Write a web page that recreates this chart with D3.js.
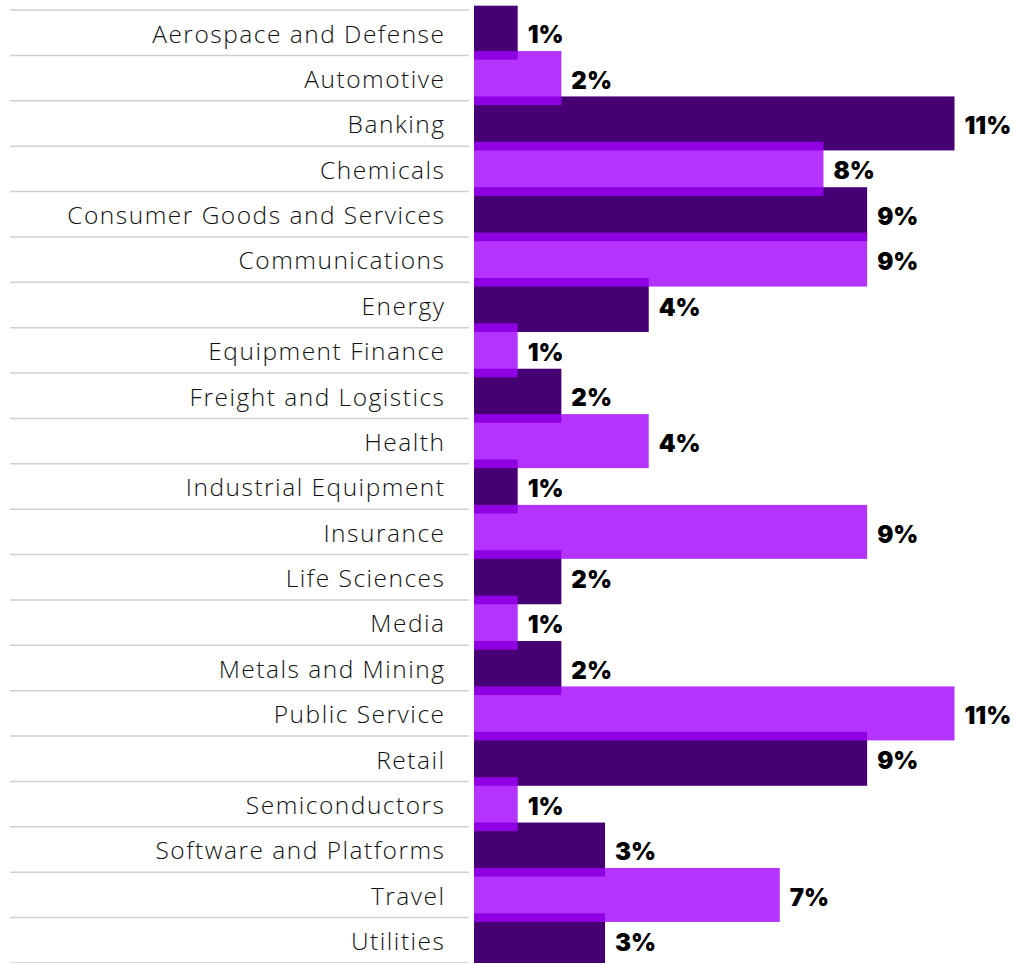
<!DOCTYPE html>
<html><head><meta charset="utf-8">
<script src="https://cdn.jsdelivr.net/npm/d3@7"></script>
<style>
html,body{margin:0;padding:0;background:#fff;}
svg{display:block;}
</style></head>
<body>
<script>
const categories = ["Aerospace and Defense","Automotive","Banking","Chemicals","Consumer Goods and Services","Communications","Energy","Equipment Finance","Freight and Logistics","Health","Industrial Equipment","Insurance","Life Sciences","Media","Metals and Mining","Public Service","Retail","Semiconductors","Software and Platforms","Travel","Utilities"];
const values = [1,2,11,8,9,9,4,1,2,4,1,9,2,1,2,11,9,1,3,7,3];
const valueLabels = values.map(v => v + "%");

const W = 1014, H = 963;
const svg = d3.select("body").append("svg").attr("width", W).attr("height", H);

const y = d3.scaleBand().domain(categories).range([10, 963]).padding(0);
const x = d3.scaleLinear().domain([0, 11]).range([474, 954.5]);
const barH = y.bandwidth() * 1.19;

const data = categories.map((c, i) => ({c, v: values[i], l: valueLabels[i], i}));

// separators
const lines = d3.range(categories.length + 1).map(i => 10 + i * y.bandwidth());
svg.selectAll("line.sep").data(lines).join("line")
  .attr("x1", 10).attr("x2", 469).attr("y1", d => d).attr("y2", d => d)
  .attr("stroke", "#cfcfcf").attr("stroke-width", 1.5);

// category labels
svg.selectAll("text.cat").data(data).join("text")
  .attr("x", 445.5).attr("y", d => y(d.c) + y.bandwidth() / 2 + 1)
  .attr("dy", "0.36em").attr("text-anchor", "end")
  .attr("font-family", "'Open Sans', Roboto, sans-serif").attr("font-weight", 300)
  .attr("font-size", 24.5).attr("letter-spacing", 1.5).attr("fill", "#111")
  .text(d => d.c);

// dark bars first (even rows), then light bars (odd rows) with opacity
const dark = data.filter(d => d.i % 2 === 0);
const light = data.filter(d => d.i % 2 === 1);
svg.selectAll("rect.dark").data(dark).join("rect")
  .attr("x", x(0)).attr("width", d => x(d.v) - x(0))
  .attr("y", d => y(d.c) + y.bandwidth() / 2 - barH / 2).attr("height", barH)
  .attr("fill", "#460073");
svg.selectAll("rect.light").data(light).join("rect")
  .attr("x", x(0)).attr("width", d => x(d.v) - x(0))
  .attr("y", d => y(d.c) + y.bandwidth() / 2 - barH / 2).attr("height", barH)
  .attr("fill", "#A100FF").attr("fill-opacity", 0.8);

// value labels
svg.selectAll("text.val").data(data).join("text")
  .attr("x", d => x(d.v) + 10).attr("y", d => y(d.c) + y.bandwidth() / 2 + 2)
  .attr("dy", "0.36em")
  .attr("font-family", "Inter, Roboto, sans-serif").attr("font-weight", 900)
  .attr("font-size", 24).attr("fill", "#000")
  .text(d => d.l);
</script>
</body></html>
